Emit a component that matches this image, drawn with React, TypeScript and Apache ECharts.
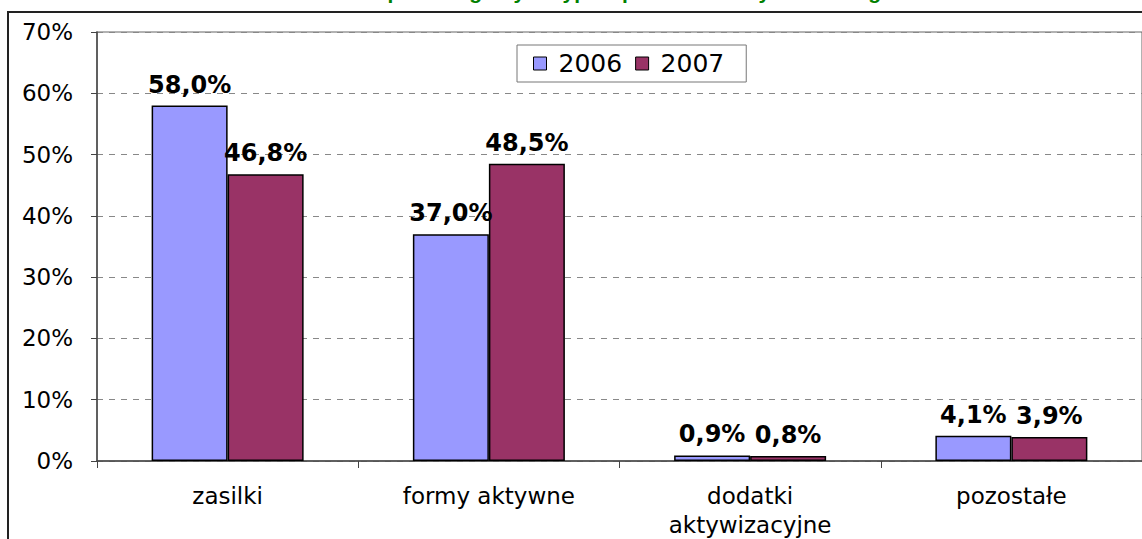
import React, { useEffect, useRef } from "react";
import * as echarts from "echarts";

const categories = ["zasilki", "formy aktywne", "dodatki\naktywizacyjne", "pozostałe"];
const seriesNames = ["2006", "2007"];
const values2006 = [58.0, 37.0, 0.9, 4.1];
const values2007 = [46.8, 48.5, 0.8, 3.9];
const titleText = "Udział poszczególnych typów płatności w wydatkach ogółem";

const FONT = "'DejaVu Sans', 'Liberation Sans', Arial, sans-serif";

export default function App() {
  const ref = useRef<HTMLDivElement>(null);
  useEffect(() => {
    if (!ref.current) return;
    const chart = echarts.init(ref.current, null, { renderer: "svg" });
    const labelFmt = (p: any) => p.value.toFixed(1).replace(".", ",") + "%";
    const barLabel = {
      show: true,
      position: "top",
      distance: 9,
      formatter: labelFmt,
      fontSize: 24,
      fontWeight: "bold",
      color: "#000",
      fontFamily: FONT,
    };
    chart.setOption({
      animation: false,
      backgroundColor: "#ffffff",
      textStyle: { fontFamily: FONT },
      graphic: [
        {
          type: "rect",
          shape: { x: 8, y: 12, width: 1300, height: 700 },
          style: { fill: "none", stroke: "#222", lineWidth: 2 },
          silent: true,
          z: -1,
        },
        {
          type: "text",
          x: 625,
          y: 1.5,
          style: {
            text: titleText,
            fill: "#008000",
            font: "bold 21px 'Liberation Sans', Arial, sans-serif",
            align: "center",
            verticalAlign: "bottom",
          },
        },
      ],
      legend: {
        data: seriesNames,
        left: 517,
        top: 45,
        itemWidth: 13,
        itemHeight: 13,
        itemGap: 13,
        padding: [6, 22, 6, 16],
        borderColor: "#777",
        borderWidth: 1,
        borderRadius: 0,
        icon: "rect",
        itemStyle: { borderColor: "#000", borderWidth: 1 },
        textStyle: { fontSize: 25, color: "#000", fontFamily: FONT, padding: [0, 0, 0, 7] },
      },
      grid: {
        left: 97,
        top: 32,
        width: 1056,
        height: 431,
        containLabel: false,
        show: true,
        borderColor: "#999",
        borderWidth: 1.5,
      },
      xAxis: {
        type: "category",
        data: categories,
        axisLine: { lineStyle: { color: "#444", width: 1.5 } },
        axisTick: { show: true, alignWithLabel: false, length: 7, lineStyle: { color: "#444" } },
        axisLabel: {
          fontSize: 23,
          color: "#000",
          margin: 20,
          lineHeight: 29,
          fontFamily: FONT,
        },
      },
      yAxis: {
        type: "value",
        min: 0,
        max: 70,
        interval: 10,
        axisLine: { show: true, lineStyle: { color: "#444", width: 1.5 } },
        axisTick: { show: true, length: 6, lineStyle: { color: "#444" } },
        axisLabel: {
          formatter: "{value}%",
          fontSize: 23,
          color: "#000",
          margin: 24,
          fontFamily: FONT,
        },
        splitLine: { show: true, lineStyle: { color: "#888", type: [6, 6], width: 1 } },
      },
      series: [
        {
          name: seriesNames[0],
          type: "bar",
          data: values2006,
          barWidth: 76,
          barGap: "0%",
          itemStyle: { color: "#9999FF", borderColor: "#000", borderWidth: 1.5 },
          label: barLabel,
        },
        {
          name: seriesNames[1],
          type: "bar",
          data: values2007,
          barWidth: 76,
          barGap: "0%",
          itemStyle: { color: "#993366", borderColor: "#000", borderWidth: 1.5 },
          label: barLabel,
        },
      ],
    });
    return () => chart.dispose();
  }, []);
  return (
    <div
      ref={ref}
      style={{ position: "fixed", left: 0, top: 0, width: 1142, height: 539, background: "#fff" }}
    />
  );
}
